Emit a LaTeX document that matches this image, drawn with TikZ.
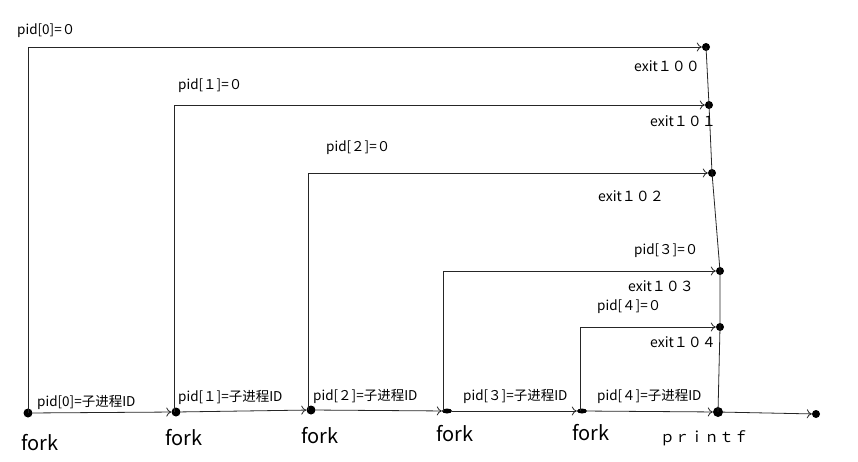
\documentclass[tikz,border=0pt]{standalone}
\usepackage{fontspec}
\setmainfont{Noto Sans CJK SC}
\usetikzlibrary{arrows.meta,shapes.geometric}
\begin{document}
\begin{tikzpicture}[x=1pt,y=-1pt,
  dot/.style={circle,fill=black,inner sep=0pt,minimum size=9pt},
  fdot/.style={ellipse,fill=black,inner sep=0pt,minimum width=10pt,minimum height=5pt},
  line/.style={draw=black!85,line width=0.8pt},
  arr/.style={line,-{To[length=5pt,width=9pt]}},
  lab/.style={font=\fontsize{13.5}{16}\selectfont,inner sep=0pt,anchor=west},
  exlab/.style={font=\fontsize{14}{16}\selectfont,inner sep=0pt,anchor=west},
  forklab/.style={font=\fontsize{20}{24}\selectfont,inner sep=0pt}]
\useasboundingbox (0,0) rectangle (858,462);
% bottom dots
\node[dot] (f0) at (28,413) {};
\node[dot] (f1) at (176,412) {};
\node[dot] (f2) at (311,410) {};
\node[fdot] (f3) at (447,411) {};
\node[fdot] (f4) at (582,411) {};
\node[dot,minimum size=10pt] (p) at (718,412) {};
\node[dot,minimum size=8pt] (end) at (816,414) {};
% right dots
\node[dot,minimum size=8pt] (e0) at (706,47) {};
\node[dot,minimum size=8pt] (e1) at (709,105) {};
\node[dot,minimum size=8pt] (e2) at (712,173) {};
\node[dot,minimum size=8pt] (e3) at (720,271) {};
\node[dot,minimum size=8pt] (e4) at (720,327) {};
% child branches
\draw[arr] (f0.center) |- (e0);
\draw[arr] (174,412) |- (e1);
\draw[arr] (308,410) |- (e2);
\draw[arr] (443,411) |- (e3);
\draw[arr] (580,411) |- (e4);
% right line
\draw[line] (e0.center) -- (e1.center) -- (e2.center) -- (e3.center) -- (e4.center) -- (p.center);
% bottom chain
\draw[arr] (f0) -- (f1);
\draw[arr] (f1) -- (f2);
\draw[arr] (f2) -- (f3);
\draw[arr] (f3) -- (f4);
\draw[arr] (f4) -- (p);
\draw[arr] (p) -- (end);
% labels top
\node[lab] (l0) at (17,31) {pid[0]=０};
\node[lab] (l1) at (178,86) {pid[１]=０};
\node[lab] (l2) at (326,148) {pid[２]=０};
\node[lab] (l3) at (634,251) {pid[３]=０};
\node[lab] (l4) at (597,307) {pid[４]=０};
\node[exlab] (x0) at (634,66) {exit１００};
\node[exlab] (x1) at (650,121) {exit１０１};
\node[exlab] (x2) at (598,196) {exit１０２};
\node[exlab] (x3) at (628,286) {exit１０３};
\node[exlab] (x4) at (650,342) {exit１０４};
% labels bottom
\node[lab] (b0) at (37,402) {pid[0]=子进程ID};
\node[lab] (b1) at (178,397) {pid[１]=子进程ID};
\node[lab] (b2) at (313,396) {pid[２]=子进程ID};
\node[lab] (b3) at (463,396) {pid[３]=子进程ID};
\node[lab] (b4) at (597,396) {pid[４]=子进程ID};
\node[forklab] (k0) at (40,443) {fork};
\node[forklab] (k1) at (184,438) {fork};
\node[forklab] (k2) at (320,436) {fork};
\node[forklab] (k3) at (455,434) {fork};
\node[forklab] (k4) at (591,433) {fork};
\node[lab,font=\fontsize{14.7}{16}\selectfont] (pr) at (660,438) {ｐｒｉｎｔｆ};
\end{tikzpicture}
\end{document}
